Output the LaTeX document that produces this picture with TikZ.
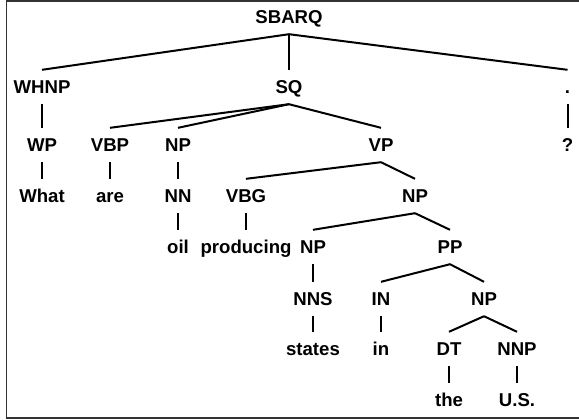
\documentclass[tikz,border=0pt]{standalone}
\usepackage{fontspec}
\setmainfont{Liberation Sans}
\begin{document}
\begin{tikzpicture}[x=1bp,y=-1bp,
  lab/.style={inner xsep=2bp, inner ysep=10.3bp, text height=13.4bp, text depth=0bp,
    font=\fontsize{18.6bp}{21bp}\selectfont\bfseries, anchor=center},
  edge/.style={line width=2bp, black}]
\useasboundingbox (0,0) rectangle (579,419);
\draw[line width=1.5bp, black!80] (579,1) -- (6.5,1) -- (6.5,418) -- (579,418);
% level y: 17, 87, 145, 196, 247, 299, 349, 400
\node[lab] (sbarq) at (289,17) {SBARQ};
\node[lab] (whnp) at (42,87) {WHNP};
\node[lab] (sq) at (289,87) {SQ};
\node[lab] (dot) at (567.5,87) {.};
\node[lab] (wp) at (42,145) {WP};
\node[lab] (vbp) at (110,145) {VBP};
\node[lab] (np1) at (178,145) {NP};
\node[lab] (vp) at (381,145) {VP};
\node[lab] (q) at (567.5,145) {?};
\node[lab] (what) at (42,196) {What};
\node[lab] (are) at (110,196) {are};
\node[lab] (nn) at (178,196) {NN};
\node[lab] (vbg) at (246,196) {VBG};
\node[lab] (np2) at (415,196) {NP};
\node[lab] (oil) at (178,247) {oil};
\node[lab] (prod) at (246,247) {producing};
\node[lab] (np3) at (313,247) {NP};
\node[lab] (pp) at (450,247) {PP};
\node[lab] (nns) at (313,299) {NNS};
\node[lab] (in) at (381,299) {IN};
\node[lab] (np4) at (484,299) {NP};
\node[lab] (states) at (313,349) {states};
\node[lab] (inw) at (381,349) {in};
\node[lab] (dt) at (449,349) {DT};
\node[lab] (nnp) at (517,349) {NNP};
\node[lab] (the) at (449,400) {the};
\node[lab] (us) at (517,400) {U.S.};
\foreach \p/\c in {sbarq/whnp, sbarq/sq, sbarq/dot, whnp/wp, sq/vbp, sq/np1, sq/vp,
  dot/q, wp/what, vbp/are, np1/nn, vp/vbg, vp/np2, nn/oil, vbg/prod, np2/np3, np2/pp,
  np3/nns, pp/in, pp/np4, nns/states, in/inw, np4/dt, np4/nnp, dt/the, nnp/us}
  \draw[edge] (\p.south) -- (\c.north);
\end{tikzpicture}
\end{document}
